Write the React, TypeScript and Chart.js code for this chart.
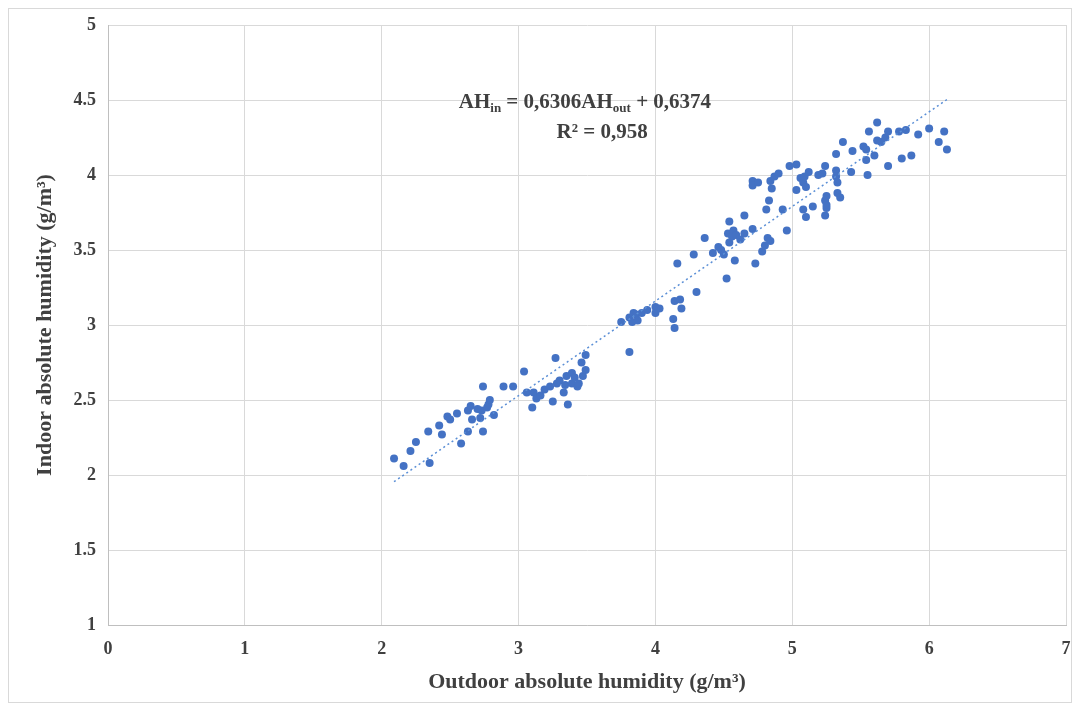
import React, { useEffect, useRef } from "react";
import { Chart, registerables } from "chart.js";

Chart.register(...registerables);

// Outdoor absolute humidity (g/m³) — x values
const outdoorAH = [
  2.09, 2.16, 2.21, 2.25, 2.34, 2.35, 2.42, 2.44, 2.48, 2.5, 2.55, 2.58, 2.63, 2.63, 2.65, 2.66, 2.7, 2.72, 2.73, 2.74, 2.74, 2.77, 2.78, 2.79, 2.82, 2.89, 2.96,
  3.04, 3.06, 3.1, 3.11, 3.13, 3.16, 3.19, 3.23, 3.25, 3.27, 3.28, 3.3, 3.33, 3.34, 3.35, 3.36, 3.39, 3.39, 3.41, 3.43, 3.44, 3.46, 3.47, 3.49, 3.49,
  3.75, 3.81, 3.81, 3.83, 3.84, 3.86, 3.87, 3.9, 3.94, 4.0, 4.0, 4.03, 4.13, 4.14, 4.14, 4.16, 4.18, 4.19, 4.28, 4.3,
  4.36, 4.42, 4.46, 4.48, 4.5, 4.52, 4.53, 4.54, 4.54, 4.56, 4.57, 4.58, 4.59, 4.62, 4.65, 4.65, 4.71, 4.71, 4.71, 4.73, 4.75, 4.78, 4.8, 4.82, 4.81, 4.83, 4.84, 4.84, 4.85, 4.87, 4.9, 4.93, 4.96, 4.98,
  5.03, 5.03, 5.06, 5.08, 5.08, 5.09, 5.1, 5.1, 5.12, 5.15, 5.19, 5.22, 5.24, 5.24, 5.24, 5.25, 5.25, 5.25, 5.32, 5.32, 5.32, 5.33, 5.33, 5.35, 5.37,
  5.43, 5.44, 5.52, 5.54, 5.54, 5.55, 5.56, 5.6, 5.62, 5.62, 5.65, 5.68, 5.7, 5.7, 5.78, 5.8, 5.83, 5.87, 5.92, 6.0, 6.07, 6.11, 6.13,
];

// Indoor absolute humidity (g/m³) — y values
const indoorAH = [
  2.11, 2.06, 2.16, 2.22, 2.29, 2.08, 2.33, 2.27, 2.39, 2.37, 2.41, 2.21, 2.29, 2.43, 2.46, 2.37, 2.44, 2.38, 2.43, 2.29, 2.59, 2.45, 2.47, 2.5, 2.4, 2.59, 2.59,
  2.69, 2.55, 2.45, 2.55, 2.51, 2.53, 2.57, 2.59, 2.49, 2.78, 2.61, 2.63, 2.55, 2.6, 2.66, 2.47, 2.68, 2.61, 2.65, 2.59, 2.61, 2.75, 2.66, 2.7, 2.8,
  3.02, 2.82, 3.05, 3.02, 3.08, 3.07, 3.03, 3.08, 3.1, 3.12, 3.08, 3.11, 3.04, 2.98, 3.16, 3.41, 3.17, 3.11, 3.47, 3.22,
  3.58, 3.48, 3.52, 3.5, 3.47, 3.31, 3.61, 3.55, 3.69, 3.59, 3.63, 3.43, 3.6, 3.57, 3.73, 3.61, 3.64, 3.96, 3.93, 3.41, 3.95, 3.49, 3.53, 3.58, 3.77, 3.83, 3.56, 3.96, 3.91, 3.99, 4.01, 3.77, 3.63, 4.06,
  4.07, 3.9, 3.98, 3.95, 3.77, 3.99, 3.92, 3.72, 4.02, 3.79, 4.0, 4.01, 4.06, 3.83, 3.73, 3.78, 3.86, 3.8, 4.14, 4.03, 3.99, 3.95, 3.88, 3.85, 4.22,
  4.02, 4.16, 4.19, 4.17, 4.1, 4.0, 4.29, 4.13, 4.35, 4.23, 4.22, 4.25, 4.29, 4.06, 4.29, 4.11, 4.3, 4.13, 4.27, 4.31, 4.22, 4.29, 4.17,
];

// Linear trendline coefficients
const trendSlope = 0.6306;
const trendIntercept = 0.6374;
const equationLine1 = ["AH", "in", " = 0,6306AH", "out", " + 0,6374"];
const equationLine2 = "R² = 0,958";

const xAxisTitle = "Outdoor absolute humidity (g/m³)";
const yAxisTitle = "Indoor absolute humidity (g/m³)";

const FONT = '"Liberation Serif", "Times New Roman", serif';
const TEXT = "#404040";

const equationPlugin = {
  id: "equationLabel",
  afterDatasetsDraw(chart: any) {
    const { ctx, scales } = chart;
    const xs = scales.x;
    const ys = scales.y;
    ctx.save();
    ctx.fillStyle = TEXT;
    ctx.textBaseline = "middle";
    const big = `bold 21px ${FONT}`;
    const small = `bold 13px ${FONT}`;
    const parts = equationLine1.map((t, i) => ({ t, sub: i % 2 === 1 }));
    let total = 0;
    parts.forEach((p) => {
      ctx.font = p.sub ? small : big;
      total += ctx.measureText(p.t).width;
    });
    const cx1 = xs.getPixelForValue(3.485);
    const cy1 = ys.getPixelForValue(4.48);
    let x = cx1 - total / 2;
    ctx.textAlign = "left";
    parts.forEach((p) => {
      ctx.font = p.sub ? small : big;
      ctx.fillText(p.t, x, p.sub ? cy1 + 6 : cy1);
      x += ctx.measureText(p.t).width;
    });
    ctx.font = big;
    ctx.textAlign = "center";
    ctx.fillText(equationLine2, xs.getPixelForValue(3.61), ys.getPixelForValue(4.28));
    ctx.restore();
  },
};

export default function App() {
  const canvasRef = useRef<HTMLCanvasElement | null>(null);

  useEffect(() => {
    if (!canvasRef.current) return;
    const points = outdoorAH.map((x, i) => ({ x, y: indoorAH[i] }));
    const minX = Math.min(...outdoorAH);
    const maxX = Math.max(...outdoorAH);
    const trend = [minX, maxX].map((x) => ({ x, y: trendSlope * x + trendIntercept }));

    const chart = new Chart(canvasRef.current, {
      type: "scatter",
      data: {
        datasets: [
          {
            label: "Linear trend",
            data: trend,
            showLine: true,
            borderColor: "#5b8fd6",
            borderWidth: 1.5,
            borderDash: [2, 3],
            pointRadius: 0,
            order: 0,
          },
          {
            label: "Data",
            data: points,
            backgroundColor: "#4472C4",
            borderColor: "#4472C4",
            borderWidth: 0,
            pointRadius: 4,
            order: 1,
          },
        ],
      },
      options: {
        animation: false,
        responsive: true,
        maintainAspectRatio: false,
        layout: { padding: { top: 16, right: 5, left: 0, bottom: 0 } },
        plugins: {
          legend: { display: false },
          tooltip: { enabled: false },
        },
        scales: {
          x: {
            type: "linear",
            min: 0,
            max: 7,
            ticks: {
              stepSize: 1,
              padding: 14,
              color: TEXT,
              font: { family: FONT, size: 18, weight: "bold" },
            },
            grid: { color: "#d9d9d9", drawTicks: false },
            border: { display: true, color: "#bfbfbf" },
            title: {
              display: true,
              text: xAxisTitle,
              color: TEXT,
              font: { family: FONT, size: 22, weight: "bold" },
              padding: { top: 0, bottom: 6 },
            },
            afterFit: (scale: any) => {
              scale.height = 77;
              scale.paddingLeft = 0;
              scale.paddingRight = 0;
            },
          },
          y: {
            type: "linear",
            min: 1,
            max: 5,
            ticks: {
              stepSize: 0.5,
              padding: 12,
              color: TEXT,
              font: { family: FONT, size: 18, weight: "bold" },
              callback: (v: any) => String(Number(v)),
            },
            grid: { color: "#d9d9d9", drawTicks: false },
            border: { display: true, color: "#bfbfbf" },
            title: {
              display: true,
              text: yAxisTitle,
              color: TEXT,
              font: { family: FONT, size: 22, weight: "bold" },
              padding: { top: 23, bottom: 0 },
            },
            afterFit: (scale: any) => {
              scale.width = 99;
              scale.paddingTop = 0;
              scale.paddingBottom = 0;
            },
          },
        },
      },
      plugins: [equationPlugin],
    });
    return () => chart.destroy();
  }, []);

  return (
    <div
      style={{
        width: 1064,
        height: 695,
        border: "1px solid #d9d9d9",
        boxSizing: "border-box",
        position: "relative",
        background: "#fff",
      }}
    >
      <canvas ref={canvasRef} />
    </div>
  );
}
